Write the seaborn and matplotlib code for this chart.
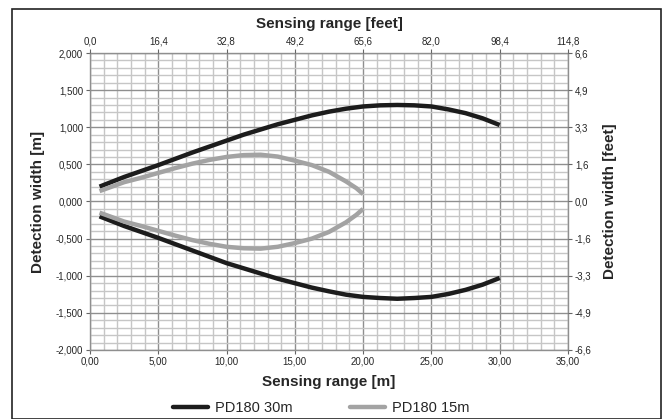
import numpy as np
import pandas as pd
import matplotlib
matplotlib.use("Agg")
import matplotlib.pyplot as plt
from matplotlib.lines import Line2D
from matplotlib.patches import Rectangle
import seaborn as sns

# ===========================
# DATA
# ===========================
x_30 = [0.7, 2.5, 3.75, 5.0, 6.25, 7.5, 8.75, 10.0, 11.25, 12.5, 13.75, 15.0,
        16.25, 17.5, 18.75, 20.0, 21.25, 22.5, 23.75, 25.0, 26.25, 27.5, 28.75, 30.0]
upper_30 = [0.20, 0.33, 0.41, 0.49, 0.575, 0.66, 0.74, 0.82, 0.90, 0.97, 1.04, 1.10,
            1.16, 1.21, 1.25, 1.28, 1.295, 1.30, 1.295, 1.28, 1.24, 1.19, 1.12, 1.03]
lower_30 = [-0.20, -0.33, -0.41, -0.49, -0.575, -0.66, -0.745, -0.83, -0.90, -0.97, -1.04, -1.10,
            -1.16, -1.21, -1.255, -1.285, -1.30, -1.31, -1.30, -1.285, -1.245, -1.19, -1.12, -1.03]

x_15 = [0.7, 2.5, 3.75, 5.0, 6.25, 7.5, 8.75, 10.0, 11.25, 12.5, 13.75, 15.0,
        16.25, 17.5, 18.75, 19.5, 20.0]
upper_15 = [0.14, 0.26, 0.32, 0.385, 0.45, 0.51, 0.56, 0.60, 0.625, 0.63, 0.605, 0.55,
            0.49, 0.40, 0.27, 0.18, 0.10]
lower_15 = [-0.15, -0.27, -0.33, -0.395, -0.46, -0.52, -0.57, -0.61, -0.63, -0.635, -0.61, -0.56,
            -0.50, -0.41, -0.28, -0.18, -0.10]

SERIES = ["PD180 30m", "PD180 15m"]
COLORS = ["#1c1c1c", "#a3a3a3"]

x_ticks = [0, 5, 10, 15, 20, 25, 30, 35]
x_labels = ["0,00", "5,00", "10,00", "15,00", "20,00", "25,00", "30,00", "35,00"]
x_feet_labels = ["0,0", "16,4", "32,8", "49,2", "65,6", "82,0", "98,4", "114,8"]
y_ticks = [-2.0, -1.5, -1.0, -0.5, 0.0, 0.5, 1.0, 1.5, 2.0]
y_labels = ["-2,000", "-1,500", "-1,000", "-0,500", "0,000", "0,500", "1,000", "1,500", "2,000"]
y_feet_labels = ["-6,6", "-4,9", "-3,3", "-1,6", "0,0", "1,6", "3,3", "4,9", "6,6"]

# long-form table, one branch per unit
rows = []
for xv, uv, lv, name in [(x_30, upper_30, lower_30, SERIES[0]),
                         (x_15, upper_15, lower_15, SERIES[1])]:
    for a, b in zip(xv, uv):
        rows.append((name, name + " up", a, b))
    for a, b in zip(xv, lv):
        rows.append((name, name + " low", a, b))
df = pd.DataFrame(rows, columns=["series", "branch", "range", "width"])

# ===========================
# PLOT
# ===========================
sns.set_style("white")
plt.rcParams["font.family"] = ["Liberation Sans", "DejaVu Sans"]
TICK_FONT = ["Liberation Sans Narrow", "Liberation Sans", "DejaVu Sans"]

fig = plt.figure(figsize=(6.69, 4.19), dpi=100)
ax = fig.add_axes([0.1345, 0.1647, 0.7145, 0.7088])

sns.lineplot(data=df, x="range", y="width", hue="series", units="branch",
             estimator=None, sort=False, palette=COLORS, hue_order=SERIES,
             linewidth=3.2, legend=False, ax=ax, zorder=5,
             solid_joinstyle="round", solid_capstyle="butt")

ax.set_xlim(0, 35)
ax.set_ylim(-2, 2)
ax.set_xticks(x_ticks)
ax.set_xticklabels(x_labels, family=TICK_FONT)
ax.set_yticks(y_ticks)
ax.set_yticklabels(y_labels, family=TICK_FONT)
ax.set_xticks(np.arange(0, 35.01, 1), minor=True)
ax.set_yticks(np.arange(-2, 2.001, 0.1), minor=True)
ax.grid(which="minor", color="#c6c6c6", linewidth=1.0, zorder=0)
ax.grid(which="major", color="#8f8f8f", linewidth=1.0, zorder=1)
ax.set_axisbelow(True)
for s in ax.spines.values():
    s.set_color("#8f8f8f")
    s.set_linewidth(1.0)
ax.tick_params(which="major", length=3, width=0.8, color="#666666",
               labelsize=7, pad=2)
ax.tick_params(which="minor", length=0)
ax.set_xlabel("Sensing range [m]", fontsize=11, fontweight="bold", labelpad=6)
ax.set_ylabel("Detection width [m]", fontsize=11, fontweight="bold", labelpad=8)

# secondary axes in feet (same positions, converted labels)
axr = ax.twinx()
axr.set_ylim(ax.get_ylim())
axr.set_yticks(y_ticks)
axr.set_yticklabels(y_feet_labels, family=TICK_FONT)
axr.tick_params(length=3, width=0.8, color="#666666", labelsize=7, pad=2)
axr.set_ylabel("Detection width [feet]", fontsize=11, fontweight="bold", labelpad=8)

axt = ax.twiny()
axt.set_xlim(ax.get_xlim())
axt.set_xticks(x_ticks)
axt.set_xticklabels(x_feet_labels, family=TICK_FONT)
axt.tick_params(length=3, width=0.8, color="#666666", labelsize=7, pad=2)
axt.set_xlabel("Sensing range [feet]", fontsize=11, fontweight="bold", labelpad=6)
for a in (axr, axt):
    for s in a.spines.values():
        s.set_visible(False)

handles = [Line2D([0], [0], color=c, linewidth=3.2) for c in COLORS]
fig.legend(handles, SERIES, loc="center", bbox_to_anchor=(0.48, 0.027),
           ncol=2, frameon=False, fontsize=10.5, handlelength=2.4,
           columnspacing=3.9, handletextpad=0.5)

# outer frame
fig.patches.append(Rectangle((12 / 669, 0.0), 649 / 669, 1 - 9 / 419,
                             transform=fig.transFigure, fill=False,
                             edgecolor="#222222", linewidth=1.2))

fig.savefig("out.png", dpi=100)
plt.close(fig)
